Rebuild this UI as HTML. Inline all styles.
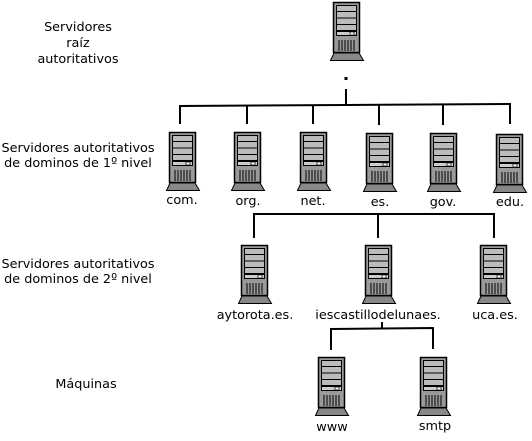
<!DOCTYPE html>
<html><head><meta charset="utf-8"><style>
body{margin:0;background:#fff;width:532px;height:436px;overflow:hidden}
svg text{font-family:"DejaVu Sans","Liberation Sans",sans-serif;font-size:12.8px;fill:#000}
</style></head><body>
<svg width="532" height="436" viewBox="0 0 532 436">
<defs>
<g id="s">
<rect x="3.5" y="0.5" width="26" height="50" fill="#9a9a9a" stroke="#000" stroke-width="1.5"/>
<rect x="6.5" y="3.5" width="20" height="25" fill="#bbb" stroke="#000"/>
<line x1="6.5" y1="9.5" x2="26.5" y2="9.5" stroke="#000"/>
<line x1="6.5" y1="16" x2="26.5" y2="16" stroke="#000"/>
<line x1="6.5" y1="22.5" x2="26.5" y2="22.5" stroke="#000"/>
<rect x="6.5" y="29.5" width="20" height="4" fill="#ccc" stroke="#000"/>
<rect x="20" y="30" width="4" height="3" fill="#fff" stroke="#000" stroke-width=".7"/>
<g stroke="#000" stroke-width="1"><line x1="9" y1="38" x2="9" y2="49"/><line x1="12" y1="38" x2="12" y2="49"/><line x1="15" y1="38" x2="15" y2="49"/><line x1="18" y1="38" x2="18" y2="49"/><line x1="21" y1="38" x2="21" y2="49"/><line x1="24" y1="38" x2="24" y2="49"/></g>
<polygon points="0.5,58.5 4,51 29,51 33.5,58.5" fill="#888" stroke="#000"/>
</g>
</defs>
<g stroke="#000" stroke-width="2" fill="none">
<rect x="344.5" y="77" width="3" height="3" fill="#000" stroke="none"/>
<line x1="346" y1="89" x2="346" y2="105"/>
<polyline points="180,124 180,106 346,105 510,104 510,124"/>
<line x1="247" y1="106" x2="247" y2="124"/>
<line x1="313" y1="106" x2="313" y2="124"/>
<line x1="379" y1="105" x2="379" y2="125"/>
<line x1="443" y1="105" x2="443" y2="125"/>
<polyline points="254,238 254,214 494,214 494,238"/>
<line x1="378" y1="214" x2="378" y2="238"/>
<polyline points="331,350 331,329 433,328 433,349"/>
<line x1="382" y1="322" x2="382" y2="328"/>
</g>
<use href="#s" x="330" y="2"/>
<use href="#s" x="166" y="132"/>
<use href="#s" x="231" y="132"/>
<use href="#s" x="297" y="132"/>
<use href="#s" x="363" y="133"/>
<use href="#s" x="427" y="133"/>
<use href="#s" x="493" y="134"/>
<use href="#s" x="238" y="245"/>
<use href="#s" x="362" y="245"/>
<use href="#s" x="477" y="245"/>
<use href="#s" x="315" y="357"/>
<use href="#s" x="417" y="357"/>
<g text-anchor="middle">
<text x="78" y="31">Servidores</text>
<text x="78" y="47">raíz</text>
<text x="78" y="63">autoritativos</text>
<text x="78" y="152">Servidores autoritativos</text>
<text x="78" y="167">de dominos de 1º nivel</text>
<text x="78" y="268">Servidores autoritativos</text>
<text x="78" y="283">de dominos de 2º nivel</text>
<text x="86" y="388">Máquinas</text>
<text x="182" y="204">com.</text>
<text x="248" y="205">org.</text>
<text x="313" y="205">net.</text>
<text x="380" y="206">es.</text>
<text x="443" y="206">gov.</text>
<text x="510" y="206">edu.</text>
<text x="255" y="319">aytorota.es.</text>
<text x="378" y="319">iescastillodelunaes.</text>
<text x="495" y="319">uca.es.</text>
<text x="332" y="431">www</text>
<text x="435" y="430">smtp</text>
</g>
</svg>
</body></html>
